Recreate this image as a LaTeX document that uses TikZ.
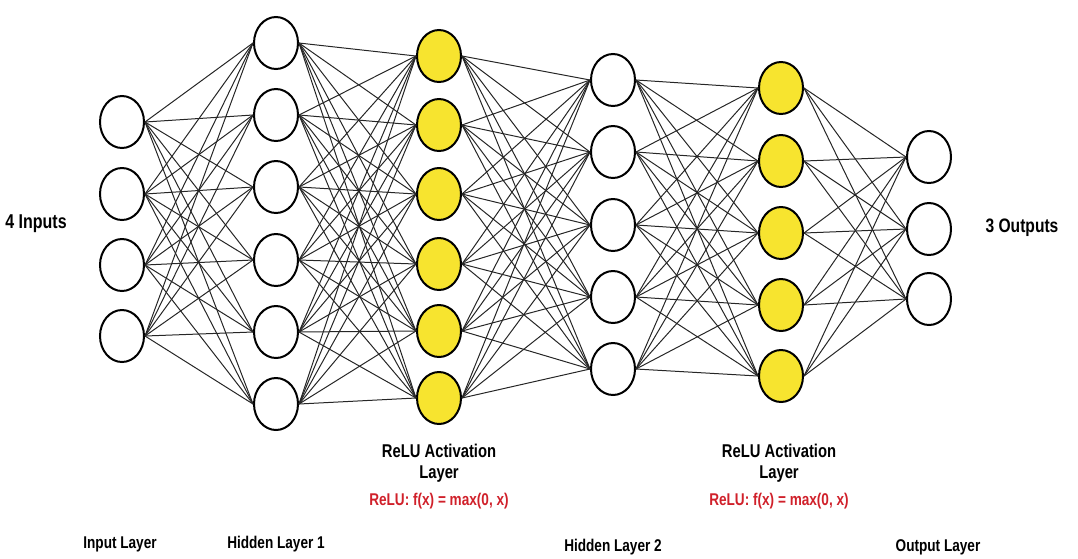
\documentclass[tikz,border=0pt]{standalone}
\usepackage{fontspec}
\usepackage{xcolor}
\usetikzlibrary{shapes.geometric}
\newfontfamily\lblfont[FakeStretch=0.8]{Liberation Sans}
\definecolor{reluyellow}{HTML}{F7E42F}
\definecolor{relured}{HTML}{D0202A}

\tikzset{
    neuron/.style={ellipse, draw=black, line width=2pt, fill=white,
        minimum width=44pt, minimum height=52pt, inner sep=0pt},
    relu/.style={neuron, fill=reluyellow},
    synapse/.style={black!85, line width=1pt},
    lbl/.style={font=\lblfont\bfseries\fontsize{17}{20}\selectfont, align=center}
}

\begin{document}
\begin{tikzpicture}[x=1pt, y=-1pt]
        \useasboundingbox (0, 0) rectangle (1078, 558);

        % layers
        \foreach \y [count=\i] in {122, 194, 265, 336}
            \node[neuron] (in\i) at (122, \y) {};
        \foreach \y [count=\i] in {43, 115, 187, 260, 332, 404}
            \node[neuron] (ha\i) at (276, \y) {};
        \foreach \y [count=\i] in {56, 125, 194, 264, 331, 398}
            \node[relu] (ra\i) at (439, \y) {};
        \foreach \y [count=\i] in {80, 152, 225, 297, 369}
            \node[neuron] (hb\i) at (613, \y) {};
        \foreach \y [count=\i] in {88, 161, 233, 305, 376}
            \node[relu] (rb\i) at (781, \y) {};
        \foreach \y [count=\i] in {157, 229, 299}
            \node[neuron] (out\i) at (929, \y) {};

        %%%

        \foreach \a in {1,...,4}
            \foreach \b in {1,...,6}
                \draw[synapse] (in\a.east) -- (ha\b.west);
        \foreach \a in {1,...,6}
            \foreach \b in {1,...,6}
                \draw[synapse] (ha\a.east) -- (ra\b.west);
        \foreach \a in {1,...,6}
            \foreach \b in {1,...,5}
                \draw[synapse] (ra\a.east) -- (hb\b.west);
        \foreach \a in {1,...,5}
            \foreach \b in {1,...,5}
                \draw[synapse] (hb\a.east) -- (rb\b.west);
        \foreach \a in {1,...,5}
            \foreach \b in {1,...,3}
                \draw[synapse] (rb\a.east) -- (out\b.west);

        %%%

        \node[lbl, font=\lblfont\bfseries\fontsize{20}{23}\selectfont] (inputs) at (36, 224) {4 Inputs};
        \node[lbl, font=\lblfont\bfseries\fontsize{19.5}{23}\selectfont] (outputs) at (1022, 228) {3 Outputs};

        \node[lbl, font=\lblfont\bfseries\fontsize{18.5}{21.5}\selectfont] (relua) at (439, 463) {ReLU Activation\\Layer};
        \node[lbl, relured, font=\lblfont\bfseries\fontsize{17}{20}\selectfont] (fa) at (439, 501) {ReLU: f(x) = max(0, x)};
        \node[lbl, font=\lblfont\bfseries\fontsize{18.5}{21.5}\selectfont] (relub) at (779, 463) {ReLU Activation\\Layer};
        \node[lbl, relured, font=\lblfont\bfseries\fontsize{17}{20}\selectfont] (fb) at (779, 501) {ReLU: f(x) = max(0, x)};

        \node[lbl] (inlayer) at (120, 544) {Input Layer};
        \node[lbl] (hlayera) at (276, 544) {Hidden Layer 1};
        \node[lbl] (hlayerb) at (613, 547) {Hidden Layer 2};
        \node[lbl] (outlayer) at (938, 547) {Output Layer};
    \end{tikzpicture}
\end{document}
